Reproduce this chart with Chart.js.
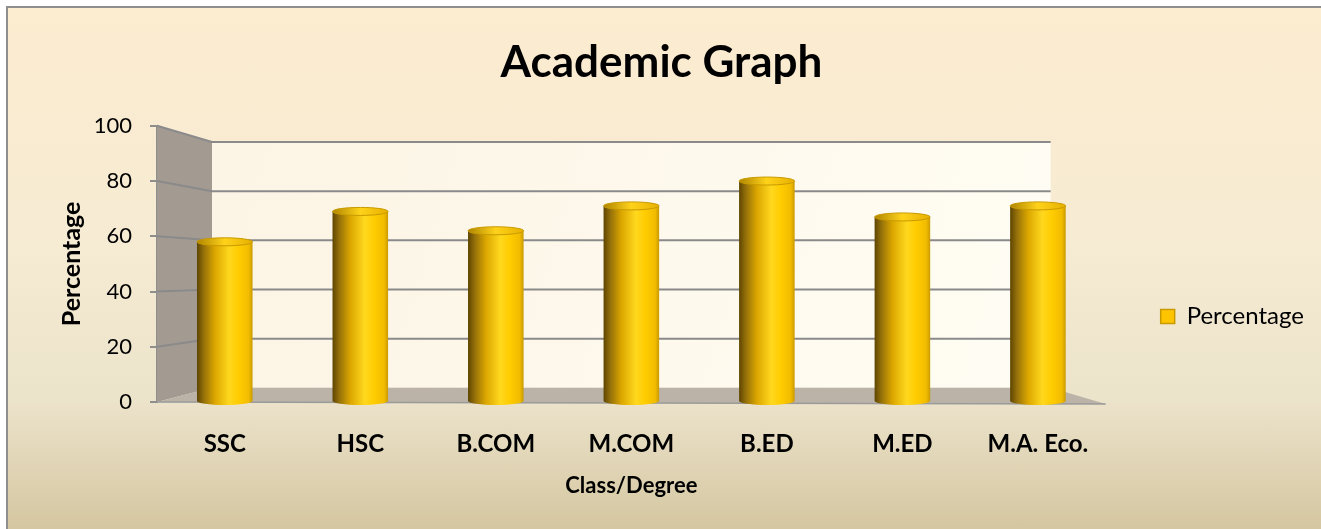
<!DOCTYPE html>
<html>
<head>
<meta charset="utf-8">
<script src="https://cdn.jsdelivr.net/npm/chart.js@4"></script>
<style>
  html, body { margin: 0; padding: 0; background: #ffffff; }
  #frame {
    position: absolute; left: 6px; top: 6px; width: 1315px; height: 523px;
    border-left: 2px solid #8f8f8f; border-top: 2px solid #8f8f8f;
    background: linear-gradient(to bottom, #fcecd0 0%, #f6ebd3 45%, #ece3cb 75%, #d4c6a0 100%);
  }
  #chart { position: absolute; left: 0; top: 0; }
</style>
</head>
<body>
<div id="frame"></div>
<canvas id="chart" width="1321" height="529"></canvas>
<script>
const classes = ['SSC', 'HSC', 'B.COM', 'M.COM', 'B.ED', 'M.ED', 'M.A. Eco.']
const percentage = [58, 69, 62, 71, 80, 67, 71]
const yTicks = [0, 20, 40, 60, 80, 100]

const barPct = 0.41
const depth = 0.89   // back wall scale vs front axis
const inset = 55     // how far the back wall sits in from the front edges

function cylFill(c) {
    const chart = c.chart
    const area = chart.chartArea
    if (!area || c.type !== 'data') return '#ffc000'
    const xs = chart.scales.x
    const cx = xs.getPixelForValue(c.dataIndex)
    const hw = xs.width / classes.length * barPct / 2
    const g = chart.ctx.createLinearGradient(cx - hw, 0, cx + hw, 0)
    g.addColorStop(0, '#5e4500')
    g.addColorStop(0.12, '#94700a')
    g.addColorStop(0.32, '#dba600')
    g.addColorStop(0.58, '#ffd81e')
    g.addColorStop(0.75, '#ffcc00')
    g.addColorStop(0.93, '#f2bc00')
    g.addColorStop(1, '#c99a00')
    return g
}

// gray side wall, floor, back wall and grid lines, like Excel's 3D box
const box3d = {
    id: 'box3d',
    beforeDatasetsDraw(chart) {
        const ctx = chart.ctx
        const a = chart.chartArea
        const y = chart.scales.y
        const mid = (a.top + a.bottom) / 2
        const back = v => mid + 1 + (y.getPixelForValue(v) - mid) * depth
        const L = a.left, R = a.right, Lb = a.left + inset, Rb = a.right - inset
        const top = yTicks[yTicks.length - 1]
        ctx.save()
        // back wall
        let g = ctx.createLinearGradient(Lb, back(top), Rb, back(0))
        g.addColorStop(0, '#fcf4e4')
        g.addColorStop(1, '#fffdf4')
        ctx.fillStyle = g
        ctx.fillRect(Lb, back(top), Rb - Lb, back(0) - back(top))
        // side wall
        ctx.beginPath()
        ctx.moveTo(L, y.getPixelForValue(top))
        ctx.lineTo(Lb, back(top))
        ctx.lineTo(Lb, back(0))
        ctx.lineTo(L, y.getPixelForValue(0))
        ctx.closePath()
        ctx.fillStyle = '#a39b92'
        ctx.fill()
        // floor
        ctx.beginPath()
        ctx.moveTo(L, y.getPixelForValue(0))
        ctx.lineTo(Lb, back(0))
        ctx.lineTo(Rb, back(0))
        ctx.lineTo(R, y.getPixelForValue(0) + 2)
        ctx.closePath()
        ctx.fillStyle = '#bcb3a8'
        ctx.fill()
        ctx.strokeStyle = '#9a9a9a'
        ctx.lineWidth = 1.5
        ctx.beginPath()
        ctx.moveTo(L, y.getPixelForValue(0))
        ctx.lineTo(R, y.getPixelForValue(0) + 2)
        ctx.stroke()
        // grid lines
        ctx.strokeStyle = '#8a8a8a'
        ctx.lineWidth = 2
        yTicks.forEach(v => {
            if (v === 0) return
            ctx.beginPath()
            ctx.moveTo(L, y.getPixelForValue(v))
            ctx.lineTo(Lb, back(v))
            ctx.lineTo(Rb, back(v))
            ctx.stroke()
        })
        ctx.restore()
    },
    afterDatasetsDraw(chart) {
        const ctx = chart.ctx
        const meta = chart.getDatasetMeta(0)
        ctx.save()
        meta.data.forEach((bar, i) => {
            const hw = bar.width / 2
            // rounded bottom
            ctx.beginPath()
            ctx.ellipse(bar.x, bar.base, hw, 4, 0, 0, Math.PI)
            ctx.fillStyle = cylFill({chart: chart, type: 'data', dataIndex: i})
            ctx.fill()
            // top cap
            ctx.beginPath()
            ctx.ellipse(bar.x, bar.y, hw, 4, 0, 0, Math.PI * 2)
            const g = ctx.createLinearGradient(bar.x - hw, 0, bar.x + hw, 0)
            g.addColorStop(0, '#b08600')
            g.addColorStop(0.5, '#ffd21a')
            g.addColorStop(1, '#e6b000')
            ctx.fillStyle = g
            ctx.fill()
            ctx.strokeStyle = '#c99a00'
            ctx.lineWidth = 1
            ctx.stroke()
        })
        ctx.restore()
    }
}

new Chart(document.getElementById('chart'), {
    type: 'bar',
    data: {
        labels: classes,
        datasets: [{
            label: 'Percentage',
            data: percentage,
            backgroundColor: cylFill,
            borderWidth: 0,
            barPercentage: barPct,
            categoryPercentage: 1
        }]
    },
    options: {
        responsive: false,
        animation: false,
        devicePixelRatio: 1,
        layout: {
            padding: { left: 9, right: 7, top: 0, bottom: 28 }
        },
        plugins: {
            title: {
                display: true,
                text: 'Academic Graph',
                color: '#000',
                font: { family: 'Lato', size: 44, weight: 'bold' },
                padding: { top: 36, bottom: 37 }
            },
            legend: {
                position: 'right',
                align: 'start',
                title: {
                    display: true,
                    text: ' ',
                    padding: { top: 235, bottom: 0 }
                },
                labels: {
                    color: '#000',
                    font: { family: 'Lato', size: 24 },
                    boxWidth: 14,
                    boxHeight: 14,
                    padding: 55,
                    generateLabels: () => [{
                        text: 'Percentage',
                        fillStyle: '#ffc400',
                        strokeStyle: '#c99a00',
                        fontColor: '#000',
                        lineWidth: 1.5,
                        datasetIndex: 0
                    }]
                }
            },
            tooltip: { enabled: false }
        },
        scales: {
            x: {
                grid: { display: false },
                border: { display: false },
                afterFit: axis => { axis.height = 99 },
                ticks: {
                    color: '#000',
                    padding: 20,
                    maxRotation: 0,
                    font: { family: 'Lato', size: 24, weight: 'bold' }
                },
                title: {
                    display: true,
                    text: 'Class/Degree',
                    color: '#000',
                    font: { family: 'Lato', size: 22, weight: 'bold' },
                    padding: { top: 10, bottom: 2 }
                }
            },
            y: {
                min: 0,
                max: 100,
                afterBuildTicks: axis => { axis.ticks = yTicks.map(v => ({ value: v })) },
                afterFit: axis => { axis.width = 148 },
                grid: {
                    drawOnChartArea: false,
                    drawTicks: true,
                    tickLength: 7,
                    color: '#8e8e8e',
                    lineWidth: 2
                },
                border: { display: true, color: '#8e8e8e', width: 2 },
                ticks: {
                    color: '#000',
                    padding: 18,
                    font: { family: 'Lato', size: 22 }
                },
                title: {
                    display: true,
                    text: 'Percentage',
                    color: '#000',
                    font: { family: 'Lato', size: 25, weight: 'bold' },
                    padding: { top: 48, bottom: 0 }
                }
            }
        }
    },
    plugins: [box3d]
});
</script>
</body>
</html>
